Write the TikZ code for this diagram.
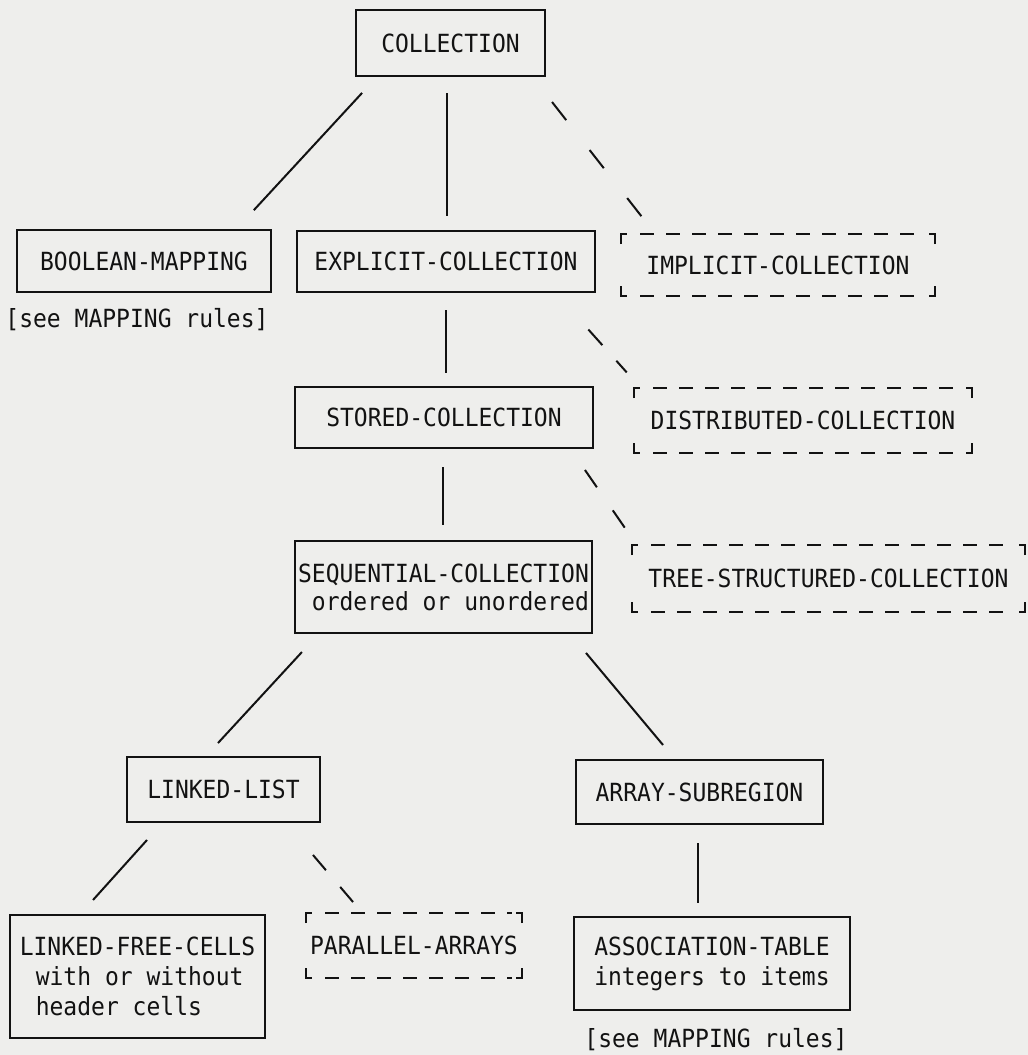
\documentclass[tikz,border=0pt]{standalone}
\usepackage{fontspec}
\setmonofont[FakeStretch=0.92]{DejaVu Sans Mono}
\definecolor{bg}{RGB}{238,238,236}
\definecolor{ink}{RGB}{18,18,18}
\newcommand{\mydframe}[1]{%
  \draw[dline] (#1.north west) ++(0,10) -- ++(0,-10) -- ++(6,0);
  \draw[dline] (#1.north east) ++(0,10) -- ++(0,-10) -- ++(-6,0);
  \draw[dline] (#1.south west) ++(0,-10) -- ++(0,10) -- ++(6,0);
  \draw[dline] (#1.south east) ++(0,-10) -- ++(0,10) -- ++(-6,0);
  \draw[dline, dash pattern=on 14pt off 12pt] ([xshift=19pt]#1.north west) -- ([xshift=-10pt]#1.north east);
  \draw[dline, dash pattern=on 14pt off 12pt] ([xshift=19pt]#1.south west) -- ([xshift=-10pt]#1.south east);
}
\begin{document}
\begin{tikzpicture}[x=1pt,y=-1pt,
  every node/.style={font=\fontsize{25}{30}\selectfont\ttfamily, text=ink, inner sep=2pt, outer sep=0pt},
  sbox/.style={draw=ink, line width=2.8pt, align=center},
  dbox/.style={align=center},
  dline/.style={draw=ink, line width=2.8pt},
  conn/.style={draw=ink, line width=2pt}]
\useasboundingbox (0,0) rectangle (1028,1055);
\fill[bg] (0,0) rectangle (1028,1055);

% nodes
\node[sbox, minimum width=189pt, minimum height=66pt] (coll) at (450.5,43) {COLLECTION};
\node[sbox, minimum width=254pt, minimum height=62pt] (bool) at (144,261) {BOOLEAN-MAPPING};
\node[sbox, minimum width=298pt, minimum height=61pt] (expl) at (446,261.5) {EXPLICIT-COLLECTION};
\node[dbox, minimum width=314pt, minimum height=62pt] (impl) at (778,265) {IMPLICIT-COLLECTION};
\node (map1) at (137,320) {[see MAPPING rules]};
\node[sbox, minimum width=298pt, minimum height=61pt] (stored) at (444,417.5) {STORED-COLLECTION};
\node[dbox, minimum width=338pt, minimum height=65pt] (dist) at (803,420.5) {DISTRIBUTED-COLLECTION};
\node[sbox, minimum width=297pt, minimum height=92pt, align=right, font=\fontsize{25}{28}\selectfont\ttfamily] (seq) at (443.5,587) {SEQUENTIAL-COLLECTION\\ordered or unordered};
\node[dbox, minimum width=393pt, minimum height=67pt] (tree) at (828.5,578.5) {TREE-STRUCTURED-COLLECTION};
\node[sbox, minimum width=193pt, minimum height=65pt] (llist) at (223.5,789.5) {LINKED-LIST};
\node[sbox, minimum width=247pt, minimum height=64pt] (arr) at (699.5,792) {ARRAY-SUBREGION};
\node[sbox, minimum width=255pt, minimum height=123pt, align=left] (lfc) at (137.5,976.5) {LINKED-FREE-CELLS\\\hspace*{16pt}with or without\\\hspace*{16pt}header cells};
\node[dbox, minimum width=216pt, minimum height=65pt] (par) at (414,945.5) {PARALLEL-ARRAYS};
\node[sbox, minimum width=276pt, minimum height=93pt] (assoc) at (712,963.5) {ASSOCIATION-TABLE\\integers to items};
\node (map2) at (716,1040) {[see MAPPING rules]};

% dashed frames
\mydframe{impl}
\mydframe{dist}
\mydframe{tree}
\mydframe{par}

% connectors
\draw[conn, shorten <=23pt, shorten >=27pt] ([xshift=-72.8pt]coll.south) -- ([xshift=91.5pt]bool.north);
\draw[conn, shorten <=17pt, shorten >=15pt] ([xshift=-3.5pt]coll.south) -- ([xshift=1pt]expl.north);
\draw[conn, dash pattern=on 23pt off 38pt, shorten <=33pt, shorten >=21.6pt] ([xshift=81.2pt]coll.south) -- ([xshift=-122.7pt]impl.north);
\draw[conn, shorten <=18pt, shorten >=14pt] (expl.south) -- ([xshift=2pt]stored.north);
\draw[conn, dash pattern=on 21pt off 21pt, shorten <=50.3pt, shorten >=21pt] ([xshift=108.8pt]expl.south) -- ([xshift=-162.3pt]dist.north);
\draw[conn, shorten <=19pt, shorten >=16pt] ([xshift=-1pt]stored.south) -- ([xshift=-0.5pt]seq.north);
\draw[conn, dash pattern=on 21pt off 28pt, shorten <=26.7pt, shorten >=20.7pt] ([xshift=125.8pt]stored.south) -- ([xshift=-191.8pt]tree.north);
\draw[conn, shorten <=25.9pt, shorten >=19pt] ([xshift=-124pt]seq.south) -- ([xshift=-18.4pt]llist.north);
\draw[conn, shorten <=26pt, shorten >=19.6pt] ([xshift=125.8pt]seq.south) -- ([xshift=-23.9pt]arr.north);
\draw[conn, shorten <=24.2pt, shorten >=20.2pt] ([xshift=-60.3pt]llist.south) -- ([xshift=-58pt]lfc.north);
\draw[conn, dash pattern=on 20pt off 22pt, shorten <=43.3pt, shorten >=14.4pt] ([xshift=61.4pt]llist.south) -- ([xshift=-51.6pt]par.north);
\draw[conn, shorten <=19pt, shorten >=14pt] ([xshift=-1.5pt]arr.south) -- ([xshift=-14pt]assoc.north);
\end{tikzpicture}
\end{document}
